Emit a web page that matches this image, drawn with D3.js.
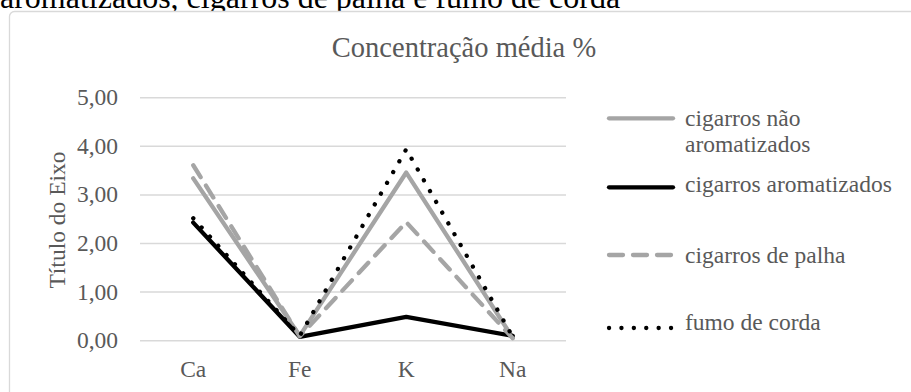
<!DOCTYPE html>
<html>
<head>
<meta charset="utf-8">
<script src="https://cdn.jsdelivr.net/npm/d3@7"></script>
<style>
  body { margin: 0; background: #fff; }
  svg { display: block; }
</style>
</head>
<body>
<div id="chart"></div>
<script>
var categories = ["Ca", "Fe", "K", "Na"];
var seriesNames = ["cigarros não aromatizados", "cigarros aromatizados", "cigarros de palha", "fumo de corda"];
var naoAromatizados = [3.34, 0.10, 3.46, 0.06];
var aromatizados = [2.43, 0.08, 0.49, 0.10];
var palha = [3.61, 0.09, 2.44, 0.05];
var fumoCorda = [2.52, 0.10, 3.94, 0.08];
var yTicks = [0, 1, 2, 3, 4, 5];

var W = 911, H = 392;
var FONT = "'Liberation Serif', 'Times New Roman', serif";
var TXT = "#595959";

var svg = d3.select("#chart").append("svg")
    .attr("width", W)
    .attr("height", H)
    .attr("font-family", FONT);

// heading of the document, cut by the top edge
svg.append("text")
    .attr("x", 0)
    .attr("y", 8)
    .attr("font-size", 32)
    .attr("fill", "#000")
    .text("aromatizados, cigarros de palha e fumo de corda");

// chart area frame
svg.append("rect")
    .attr("x", 9.5).attr("y", 11.5)
    .attr("width", 940).attr("height", 420)
    .attr("rx", 5)
    .attr("fill", "#fff")
    .attr("stroke", "#d9d9d9")
    .attr("stroke-width", 1.3);

svg.append("text")
    .attr("x", 464)
    .attr("y", 57)
    .attr("text-anchor", "middle")
    .attr("font-size", 28.5)
    .attr("fill", TXT)
    .text("Concentração média %");

var x = d3.scaleBand().domain(categories).range([140, 566]);
var y = d3.scaleLinear().domain([0, 5]).range([340.7, 97.7]);

var g = svg.append("g");

g.selectAll(".grid")
    .data(yTicks)
    .enter().append("line")
    .attr("x1", 140).attr("x2", 566)
    .attr("y1", d => y(d))
    .attr("y2", d => y(d))
    .attr("stroke", "#d9d9d9")
    .attr("stroke-width", 1.5);

var fmt = d => d.toFixed(2).replace(".", ",");

g.selectAll(".ylab")
    .data(yTicks)
    .enter().append("text")
    .attr("x", 118)
    .attr("y", d => y(d) + 7.5)
    .attr("text-anchor", "end")
    .attr("font-size", 23.5)
    .attr("fill", TXT)
    .text(fmt);

g.selectAll(".xlab")
    .data(categories)
    .enter().append("text")
    .attr("x", d => x(d) + x.bandwidth() / 2)
    .attr("y", 377)
    .attr("text-anchor", "middle")
    .attr("font-size", 23.5)
    .attr("fill", TXT)
    .text(d => d);

svg.append("text")
    .attr("transform", "translate(65,220) rotate(-90)")
    .attr("text-anchor", "middle")
    .attr("font-size", 23.5)
    .attr("fill", TXT)
    .text("Título do Eixo");

var series = [
    { name: seriesNames[0], values: naoAromatizados, color: "#a5a5a5", dash: null },
    { name: seriesNames[1], values: aromatizados, color: "#000000", dash: null },
    { name: seriesNames[2], values: palha, color: "#a5a5a5", dash: "14,10" },
    { name: seriesNames[3], values: fumoCorda, color: "#000000", dash: "0.1,12.3" }
];

var line = d3.line()
    .x((d, i) => x(categories[i]) + x.bandwidth() / 2)
    .y(d => y(d));

// draw order like the original
[0, 1, 2, 3].forEach(function (k) {
    var s = series[k];
    g.append("path")
        .attr("d", line(s.values))
        .attr("fill", "none")
        .attr("stroke", s.color)
        .attr("stroke-width", 4.3)
        .attr("stroke-linecap", "round")
        .attr("stroke-linejoin", "round")
        .attr("stroke-dasharray", s.dash);
});

// legend
var legendY = [118.3, 187.3, 255, 328];
var textY = [126, 191.7, 262.7, 330];
var legend = svg.append("g");
series.forEach(function (s, i) {
    legend.append("line")
        .attr("x1", 609).attr("x2", 673)
        .attr("y1", legendY[i]).attr("y2", legendY[i])
        .attr("stroke", s.color)
        .attr("stroke-width", 4.3)
        .attr("stroke-linecap", "round")
        .attr("stroke-dasharray", s.dash);
    var t = legend.append("text")
        .attr("x", 685)
        .attr("font-size", 23.5)
        .attr("fill", TXT);
    if (i === 0) {
        t.append("tspan").attr("x", 685).attr("y", textY[0]).text("cigarros não");
        t.append("tspan").attr("x", 685).attr("y", 151.7).text("aromatizados");
    } else {
        t.attr("y", textY[i]).text(s.name);
    }
});
</script>
</body>
</html>
